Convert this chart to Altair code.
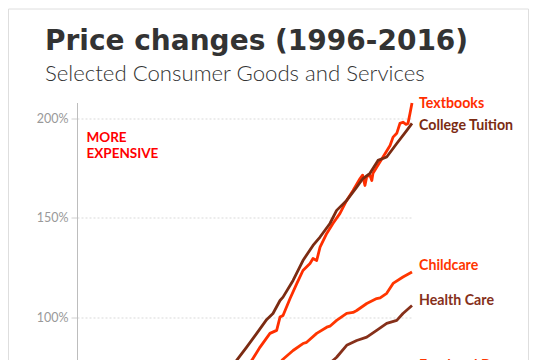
import altair as alt
import pandas as pd

# ---------------- data ----------------
textbooks_years = [1996, 1997, 1998, 1999, 2000, 2001, 2002, 2003, 2004, 2005, 2006,
                   2006.43, 2006.93, 2007.52, 2007.92, 2008.12, 2008.3, 2008.72, 2009.12,
                   2009.49, 2009.91, 2010.09, 2010.31, 2010.51, 2010.91, 2011.28, 2011.7,
                   2012.1, 2012.48, 2012.9, 2013.05, 2013.19, 2013.3, 2013.49, 2013.6,
                   2013.67, 2013.89, 2014.27, 2014.69, 2014.87, 2015.09, 2015.28, 2015.46,
                   2015.64, 2015.76, 2015.88, 2016.0]
textbooks_vals = [0, 5, 11, 17, 24, 32, 40, 48, 57, 66, 74,
                  78.4, 85.1, 92.0, 93.5, 100.2, 101, 109.5, 117,
                  123.6, 127.1, 129.6, 128.6, 135.3, 142.2, 147.2, 152.3,
                  158.8, 163.8, 169.8, 171.5, 166.3, 170.8, 171.4, 168.8,
                  172.4, 175.5, 180.6, 186.4, 190.6, 192.5, 197.5, 198.1,
                  197.0, 197.5, 202.5, 207.7]

tuition_years = [1996, 1997, 1998, 1999, 2000, 2001, 2002, 2003, 2004, 2005,
                 2005.53, 2006.13, 2006.73, 2007.33, 2007.7, 2008.12, 2008.3, 2008.9,
                 2009.49, 2010.09, 2010.51, 2011.1, 2011.5, 2012.1, 2012.7, 2013.07,
                 2013.49, 2013.97, 2014.49, 2015.09, 2015.68, 2016.0]
tuition_vals = [0, 5, 10, 16, 22, 29, 37, 47, 58, 70,
                78.4, 85.1, 92.0, 99.0, 102.0, 108.5, 110.2, 118.6,
                128.6, 136.2, 140.4, 147.2, 153.8, 158.8, 165.5, 169.8,
                172.4, 178.9, 180.6, 187.4, 193.9, 197.5]

childcare_years = [1996, 1998, 2000, 2002, 2004, 2006, 2007, 2008, 2008.3, 2008.9,
                   2009.49, 2009.71, 2010.31, 2010.91, 2011.1, 2011.5, 2012.1, 2012.48,
                   2012.7, 2013.3, 2013.89, 2014.1, 2014.49, 2014.87, 2015.46, 2016.0]
childcare_vals = [0, 10, 22, 35, 49, 63, 70, 76, 79, 83.4,
                  86.9, 87.5, 92.0, 95.1, 95.6, 98.5, 102.0, 102.5,
                  103.5, 107.0, 109.5, 109.8, 112.1, 117.1, 120.3, 122.8]

health_years = [1996, 1998, 2000, 2002, 2004, 2006, 2008, 2010, 2011, 2011.28, 2011.5,
                2012.1, 2012.7, 2013.3, 2013.89, 2014.49, 2015.09, 2015.46, 2016.0]
health_vals = [0, 8, 16, 26, 38, 50, 62, 71, 76, 78.4, 80,
               86.0, 88.4, 90.1, 93.5, 97.0, 98.5, 102.0, 106.0]

food_years = [1996, 2000, 2004, 2008, 2012, 2016]
food_vals = [0, 10, 22, 38, 48, 64]

series_names = ["Textbooks", "College Tuition", "Childcare", "Health Care", "Food and Beverages"]
series_years = [textbooks_years, tuition_years, childcare_years, health_years, food_years]
series_vals = [textbooks_vals, tuition_vals, childcare_vals, health_vals, food_vals]
line_colors = ["#ff2e00", "#7b2b12", "#ff3600", "#86301a", "#ff3600"]
label_colors = ["#ff1010", "#6e2a1c", "#e8132f", "#7a2618", "#ff1010"]
label_vals = [207.4, 196.2, 126.0, 108.5, 75.6]

y_ticks = [-100, -50, 0, 50, 100, 150, 200]
x_ticks = [1996, 2000, 2004, 2008, 2012, 2016]

title_text = "Price changes (1996-2016)"
subtitle_text = "Selected Consumer Goods and Services"
note_lines = ["MORE", "EXPENSIVE"]

# ---------------- tables ----------------
rows = []
for name, ys, vs in zip(series_names, series_years, series_vals):
    for yr, v in zip(ys, vs):
        rows.append({"series": name, "year": yr, "value": v})
lines_df = pd.DataFrame(rows)
labels_df = pd.DataFrame({"series": series_names, "year": [2016.0] * len(series_names),
                          "value": label_vals})

W, H = 335, 613
FONT = "Lato"
PAD_L, PAD_T = 69, 94.5
PAD_R = 521 - PAD_L - W

x_scale = alt.Scale(domain=[1996, 2016], nice=False)
y_scale = alt.Scale(domain=[-100, 208], nice=False, zero=False)
color_scale = alt.Scale(domain=series_names, range=line_colors)
label_scale = alt.Scale(domain=series_names, range=label_colors)

one = pd.DataFrame({"a": [0]})

border = alt.Chart(one).mark_rect(fillOpacity=0, stroke="#dedede", strokeWidth=1).encode(
    x=alt.value(-68.5), x2=alt.value(451.5), y=alt.value(-93.5), y2=alt.value(H + 60)
)

lines = alt.Chart(lines_df).mark_line(strokeWidth=2.8, strokeJoin="round").encode(
    x=alt.X("year:Q", scale=x_scale,
            axis=alt.Axis(title=None, format="d", values=x_ticks,
                          grid=False, domainColor="#bbbbbb", tickColor="#cccccc",
                          labelColor="#999999", labelFont=FONT, labelFontSize=12)),
    y=alt.Y("value:Q", scale=y_scale,
            axis=alt.Axis(title=None, values=y_ticks, labelExpr="datum.value + '%'",
                          grid=True, gridColor="#d9d9d9", gridDash=[2, 2], gridWidth=1,
                          domainColor="#bdbdbd", tickColor="#d0d0d0", tickSize=6,
                          labelColor="#999999", labelFont=FONT, labelFontSize=12.5,
                          labelPadding=3)),
    color=alt.Color("series:N", scale=color_scale, legend=None),
    detail="series:N",
)

labels = alt.Chart(labels_df).mark_text(align="left", baseline="middle", dx=7,
                                        font=FONT, fontSize=14.2, fontWeight="bold").encode(
    x=alt.X("year:Q", scale=x_scale),
    y=alt.Y("value:Q", scale=y_scale),
    text="series:N",
    color=alt.Color("series:N", scale=label_scale, legend=None),
)

note = alt.Chart(one).mark_text(align="left", baseline="alphabetic", font=FONT,
                                fontSize=13.5, fontWeight="bold", color="#ff0000",
                                lineHeight=15.5).encode(
    x=alt.value(9.5), y=alt.value(39.5), text=alt.value(note_lines)
)

title = alt.Chart(one).mark_text(align="left", baseline="alphabetic", font="DejaVu Sans",
                                 fontSize=28, fontWeight="bold", color="#333333").encode(
    x=alt.value(-32), y=alt.value(-53), text=alt.value(title_text)
)

subtitle = alt.Chart(one).mark_text(align="left", baseline="alphabetic", font=FONT,
                                    fontSize=22.2, fontWeight=300, color="#333333").encode(
    x=alt.value(-32), y=alt.value(-21.5), text=alt.value(subtitle_text)
)

chart = alt.layer(border, lines, labels, note, title, subtitle).properties(
    width=W, height=H, background="white",
    autosize=alt.AutoSizeParams(type="none"),
    padding={"left": PAD_L, "top": PAD_T, "right": PAD_R, "bottom": 40},
).configure_view(stroke=None)

chart.save("out.html", embed_options={"renderer": "svg", "actions": False})
